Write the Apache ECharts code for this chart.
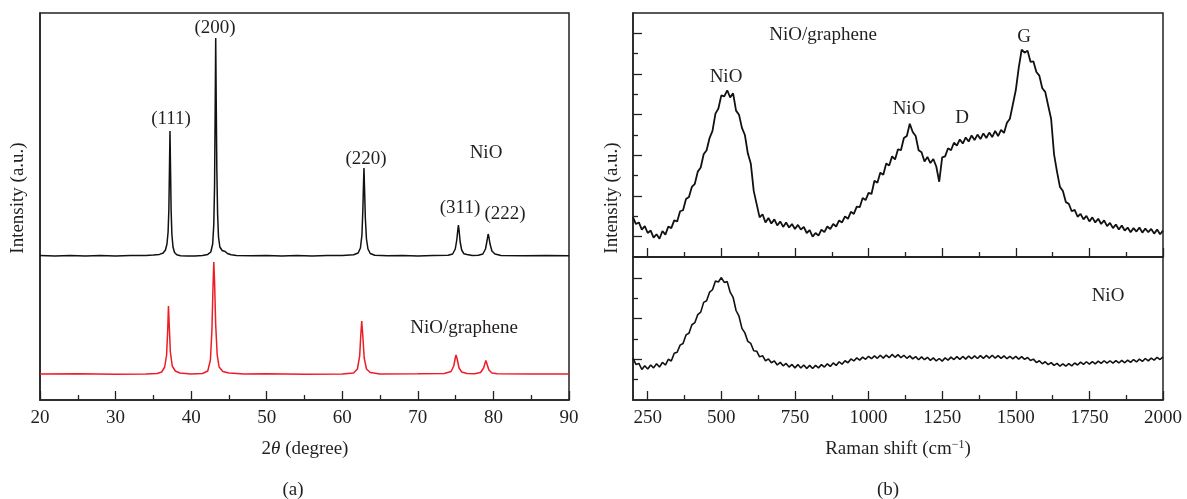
<!DOCTYPE html>
<html><head><meta charset="utf-8">
<script src="https://cdn.jsdelivr.net/npm/echarts@6/dist/echarts.min.js"></script>
<style>html,body{margin:0;padding:0;background:#fff}#c{width:1187px;height:499px}</style>
</head><body><div id="c"></div>
<script>
// ---------- (a) XRD data: [2theta, intensity (a.u.)] ----------
const xrdNiO = [[20,144.5],[22,144],[24,144.6],[26,144.1],[28,144.5],[30,144],[32,144.6],[34,144.4],[35,145],[35.8,145.6],[36.3,147],[36.6,150],[36.8,156],[36.95,168],[37.05,190],[37.12,225],[37.2,269],[37.28,228],[37.35,190],[37.45,166],[37.6,153],[37.8,147.5],[38.1,145.2],[38.6,144.3],[39.5,143.9],[40.5,144.1],[41.5,144.6],[42.2,145.6],[42.6,148],[42.85,156],[43.0,176],[43.1,215],[43.18,290],[43.25,362],[43.32,298],[43.4,230],[43.5,186],[43.62,163],[43.8,153],[44.1,149.5],[44.5,148.5],[44.8,146.5],[45.3,145.2],[46,144.6],[48,144.2],[50,144.6],[52,144.1],[54,144.5],[56,144],[58,144.5],[60,144.6],[61.5,145.2],[62.1,147],[62.4,152],[62.6,165],[62.72,190],[62.8,214],[62.87,232],[62.95,210],[63.05,182],[63.2,161],[63.4,151],[63.7,146.5],[64.3,144.8],[66,144.2],[68,144.6],[70,144.1],[72,144.5],[74,144.7],[74.6,146],[74.95,151],[75.15,160],[75.3,171],[75.37,175],[75.45,170],[75.6,158],[75.8,150],[76.1,146.2],[76.35,148],[76.5,145.6],[77.2,144.6],[78,144.7],[78.6,146],[78.95,151],[79.15,159],[79.3,166],[79.4,163],[79.55,156],[79.8,149],[80.2,146],[81,144.6],[84,144.2],[87,144.6],[90,144.2]];
const xrdNiOGraphene = [[20,26],[25,26.2],[30,25.8],[34,26],[35.5,26.5],[36.1,28],[36.5,33],[36.75,45],[36.9,70],[37.0,94],[37.1,75],[37.25,48],[37.5,34],[37.9,29],[38.5,27],[40,26],[41.5,26.5],[42.2,29],[42.55,40],[42.75,70],[42.9,115],[43.0,138],[43.1,118],[43.25,75],[43.45,45],[43.7,33],[44.2,28.5],[45,27],[47,26],[50,26.2],[55,25.8],[60,26],[61.5,27],[62.0,31],[62.3,44],[62.45,65],[62.57,79],[62.7,66],[62.9,42],[63.2,31],[63.7,27.5],[65,26],[70,26.2],[73.5,26.5],[74.4,28.5],[74.75,34],[74.95,42],[75.05,45],[75.2,41],[75.45,32],[75.8,28],[76.5,26.5],[77.5,26.3],[78.3,27.5],[78.7,32],[78.9,37],[79.0,39.5],[79.15,36],[79.4,30],[79.8,27],[80.5,26.2],[85,26],[90,26.1]];
const xrdTicks = [20,30,40,50,60,70,80,90];

// ---------- (b) Raman data ----------
const ramanShift = [200,210,220,230,240,250,260,270,280,290,300,310,320,330,340,350,360,370,380,390,400,410,420,430,440,450,460,470,480,490,500,510,520,530,540,550,560,570,580,590,600,610,620,630,640,650,660,670,680,690,700,710,720,730,740,750,760,770,780,790,800,810,820,830,840,850,860,870,880,890,900,910,920,930,940,950,960,970,980,990,1000,1010,1020,1030,1040,1050,1060,1070,1080,1090,1100,1110,1120,1130,1140,1150,1160,1170,1180,1190,1200,1210,1220,1230,1240,1250,1260,1270,1280,1290,1300,1310,1320,1330,1340,1350,1360,1370,1380,1390,1400,1410,1420,1430,1440,1450,1460,1470,1480,1490,1500,1510,1520,1530,1540,1550,1560,1570,1580,1590,1600,1610,1620,1630,1640,1650,1660,1670,1680,1690,1700,1710,1720,1730,1740,1750,1760,1770,1780,1790,1800,1810,1820,1830,1840,1850,1860,1870,1880,1890,1900,1910,1920,1930,1940,1950,1960,1970,1980,1990,2000];
const ramanNiOGraphene = [1.95,1.62,1.70,1.35,1.52,1.18,1.30,0.95,1.12,0.90,1.28,1.10,1.50,1.42,1.80,1.75,2.25,2.30,2.85,2.95,3.45,3.60,4.20,4.40,5.05,5.25,5.85,6.20,7.05,7.30,7.95,7.90,8.20,7.85,8.05,7.20,7.00,6.35,6.00,5.10,4.60,3.25,2.60,1.95,2.10,1.70,1.92,1.65,1.85,1.55,1.75,1.48,1.70,1.45,1.62,1.38,1.58,1.35,1.48,1.18,1.32,1.00,1.18,1.05,1.35,1.22,1.50,1.38,1.62,1.50,1.80,1.70,2.00,1.88,2.22,2.12,2.48,2.45,2.90,2.80,3.15,3.10,3.75,3.65,4.15,4.05,4.60,4.50,4.95,4.80,5.30,5.25,5.85,5.95,6.55,6.15,5.95,5.25,5.15,4.70,4.92,4.62,4.82,4.45,3.70,4.90,4.95,5.35,5.25,5.62,5.48,5.78,5.58,5.88,5.68,5.98,5.75,6.02,5.80,6.08,5.85,6.12,5.90,6.20,5.95,6.25,6.10,6.60,6.80,7.50,8.20,9.30,10.20,10.05,10.15,9.60,9.62,9.10,8.92,8.30,8.12,7.45,6.80,5.05,4.20,3.45,3.25,2.70,2.62,2.25,2.32,1.98,2.12,1.85,2.02,1.75,1.95,1.70,1.88,1.62,1.80,1.52,1.68,1.42,1.60,1.35,1.55,1.30,1.45,1.22,1.42,1.25,1.45,1.20,1.40,1.22,1.38,1.15,1.35,1.12,1.30];
const ramanNiO = [2.05,1.75,1.80,1.50,1.68,1.52,1.72,1.58,1.78,1.62,1.85,1.72,2.00,1.92,2.30,2.35,2.70,2.78,3.20,3.28,3.70,3.80,4.20,4.32,4.80,4.88,5.30,5.42,5.85,5.80,6.02,5.78,5.82,5.30,5.05,4.40,4.12,3.52,3.30,2.88,2.78,2.42,2.40,2.12,2.18,1.92,2.02,1.83,1.92,1.72,1.85,1.68,1.80,1.62,1.75,1.58,1.74,1.57,1.72,1.55,1.70,1.55,1.70,1.58,1.74,1.62,1.78,1.65,1.82,1.70,1.88,1.76,1.93,1.83,2.02,1.92,2.07,1.96,2.11,2.00,2.15,2.03,2.17,2.05,2.20,2.06,2.21,2.08,2.24,2.10,2.23,2.08,2.20,2.05,2.17,2.02,2.13,1.98,2.12,1.98,2.10,1.95,2.07,1.92,2.04,1.91,2.07,1.96,2.11,1.99,2.13,2.00,2.14,2.01,2.16,2.03,2.17,2.04,2.18,2.05,2.19,2.06,2.20,2.06,2.18,2.05,2.17,2.03,2.15,2.02,2.14,2.01,2.13,2.00,2.09,1.94,2.01,1.84,1.93,1.78,1.88,1.74,1.84,1.70,1.80,1.66,1.78,1.66,1.79,1.68,1.82,1.72,1.86,1.75,1.88,1.76,1.89,1.78,1.91,1.80,1.93,1.81,1.93,1.81,1.94,1.82,1.95,1.83,1.96,1.85,1.99,1.87,2.01,1.90,2.04,1.92,2.06,1.96,2.10,1.99,2.12];
const ramanMajorTicks = [250,500,750,1000,1250,1500,1750,2000];
const ramanMinorTicks = [375,625,875,1125,1375,1625,1875];
const upperMajorY = [1,3,5,7,9,11];
const upperMinorY = [2,4,6,8,10];
const lowerMajorY = [2,4,6];
const lowerMinorY = [1,3,5];

// ---------- annotations ----------
const xrdPeakNames = ['(111)','(200)','(220)','(311)','(222)'];
const ramanBandNames = ['NiO','NiO','D','G'];

const FONT = '"Liberation Serif", "Times New Roman", serif';
const INK = '#231f20';
const FRAME = '#222';

function zip(xs, ys){ return xs.map((x,i)=>[x, ys[i]]); }

const tickLine = {color:FRAME, width:1.3};
function ax(grid, min, max, pos, opt){
  return Object.assign({type:'value', gridIndex:grid, min:min, max:max, position:pos, splitLine:{show:false},
    axisLine:{show:true, onZero:false, lineStyle:{color:FRAME, width:1.5}},
    axisLabel:{show:false}, axisTick:{show:false}}, opt);
}
const labelStyle = {show:true, fontFamily:FONT, fontSize:19, color:INK, margin:9, formatter:function(v){return String(v);}};

function txt(t, x, y, extra){
  return Object.assign({type:'text', x:x, y:y, silent:true, style:{text:t, fill:INK, font:'19px ' + FONT,
    textAlign:'center', textVerticalAlign:'middle', align:'center', verticalAlign:'middle'}}, extra||{});
}

const option = {
  animation:false,
  backgroundColor:'#fff',
  grid:[
    {left:40, top:13, width:529, height:387, show:true, borderColor:FRAME, borderWidth:1.5, backgroundColor:'transparent'},
    {left:633, top:13, width:530, height:244, show:true, borderColor:FRAME, borderWidth:1.5, backgroundColor:'transparent'},
    {left:633, top:257, width:530, height:143, show:true, borderColor:FRAME, borderWidth:1.5, backgroundColor:'transparent'}
  ],
  xAxis:[
    ax(0, 20, 90, 'bottom', {interval:10, axisTick:{show:true, inside:true, length:9, lineStyle:tickLine},
      minorTick:{show:true, splitNumber:2, length:5, lineStyle:tickLine},
      axisLabel:Object.assign({customValues:xrdTicks}, labelStyle)}),
    ax(1, 200, 2000, 'bottom', {axisTick:{show:true, inside:true, length:9, customValues:ramanMajorTicks, lineStyle:tickLine}}),
    ax(1, 200, 2000, 'bottom', {axisLine:{show:false}, axisTick:{show:true, inside:true, length:5, customValues:ramanMinorTicks, lineStyle:tickLine}}),
    ax(2, 200, 2000, 'bottom', {axisTick:{show:true, inside:true, length:9, customValues:ramanMajorTicks, lineStyle:tickLine},
      axisLabel:Object.assign({customValues:ramanMajorTicks}, labelStyle)}),
    ax(2, 200, 2000, 'bottom', {axisLine:{show:false}, axisTick:{show:true, inside:true, length:5, customValues:ramanMinorTicks, lineStyle:tickLine}})
  ],
  yAxis:[
    ax(0, 0, 387, 'left', {}),
    ax(1, 0, 12, 'left', {axisTick:{show:true, inside:true, length:9, customValues:upperMajorY, lineStyle:tickLine}}),
    ax(1, 0, 12, 'left', {axisLine:{show:false}, axisTick:{show:true, inside:true, length:5, customValues:upperMinorY, lineStyle:tickLine}}),
    ax(2, 0, 7.03, 'left', {axisTick:{show:true, inside:true, length:9, customValues:lowerMajorY, lineStyle:tickLine}}),
    ax(2, 0, 7.03, 'left', {axisLine:{show:false}, axisTick:{show:true, inside:true, length:5, customValues:lowerMinorY, lineStyle:tickLine}})
  ],
  series:[
    {name:'NiO XRD', type:'line', xAxisIndex:0, yAxisIndex:0, data:xrdNiO, showSymbol:false, symbol:'none',
      lineStyle:{color:'#111', width:1.5}, silent:true},
    {name:'NiO/graphene XRD', type:'line', xAxisIndex:0, yAxisIndex:0, data:xrdNiOGraphene, showSymbol:false, symbol:'none',
      lineStyle:{color:'#ee1c25', width:1.5}, silent:true},
    {name:'NiO/graphene Raman', type:'line', xAxisIndex:1, yAxisIndex:1, data:zip(ramanShift, ramanNiOGraphene), showSymbol:false, symbol:'none',
      lineStyle:{color:'#111', width:1.8}, silent:true},
    {name:'NiO Raman', type:'line', xAxisIndex:3, yAxisIndex:3, data:zip(ramanShift, ramanNiO), showSymbol:false, symbol:'none',
      lineStyle:{color:'#111', width:1.6}, silent:true}
  ],
  graphic:[
    txt(xrdPeakNames[0], 171, 119),
    txt(xrdPeakNames[1], 215, 28),
    txt(xrdPeakNames[2], 366, 159),
    txt(xrdPeakNames[3], 460, 208),
    txt(xrdPeakNames[4], 505, 214),
    txt('NiO', 486, 153),
    txt('NiO/graphene', 464, 328),
    txt('NiO/graphene', 823, 35),
    txt(ramanBandNames[0], 726, 77),
    txt(ramanBandNames[1], 909, 109),
    txt(ramanBandNames[2], 962, 118),
    txt(ramanBandNames[3], 1024, 37),
    txt('NiO', 1108, 296),
    txt('Intensity (a.u.)', 18, 198, {rotation:Math.PI/2}),
    txt('Intensity (a.u.)', 612, 198, {rotation:Math.PI/2}),
    {type:'text', x:305, y:449, silent:true, style:{text:'2{i|θ} (degree)', fill:INK, font:'19px ' + FONT,
      textAlign:'center', textVerticalAlign:'middle', align:'center', verticalAlign:'middle',
      rich:{i:{fontFamily:FONT, fontSize:19, fontStyle:'italic', fill:INK, color:INK}}}},
    {type:'text', x:898, y:449, silent:true, style:{text:'Raman shift (cm{s|−1})', fill:INK, font:'19px ' + FONT,
      textAlign:'center', textVerticalAlign:'middle', align:'center', verticalAlign:'middle',
      rich:{s:{fontFamily:FONT, fontSize:12, fill:INK, color:INK, verticalAlign:'top', padding:[0,0,9,0]}}}},
    txt('(a)', 293, 490),
    txt('(b)', 888, 490)
  ]
};

const chart = echarts.init(document.getElementById('c'), null, {renderer:'canvas'});
chart.setOption(option);
</script></body></html>
